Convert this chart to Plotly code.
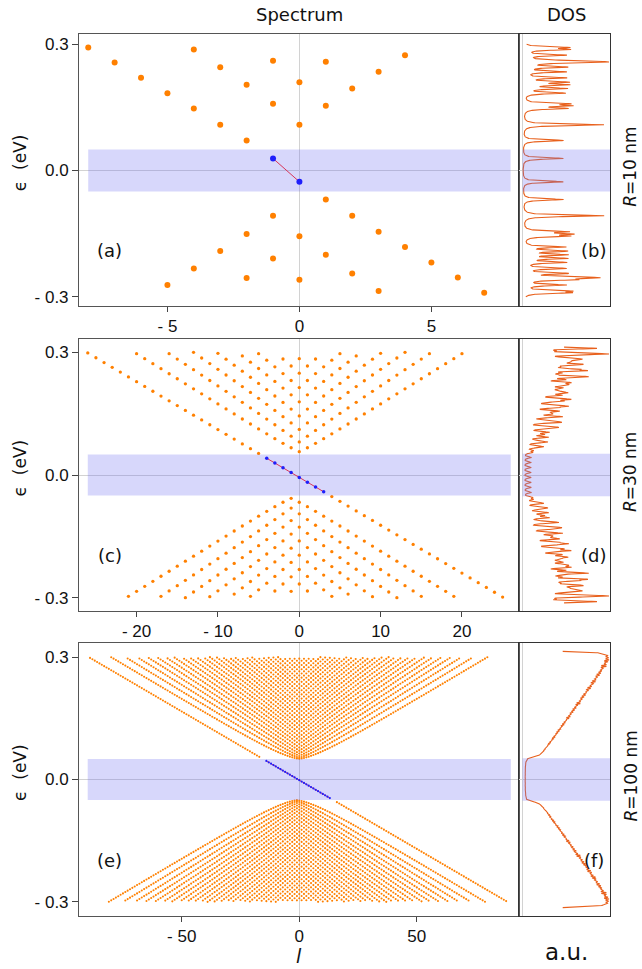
import numpy as np
import plotly.graph_objects as go

# ---------------- data ----------------
# panel (a), R = 10 nm : every point read individually
a_l_orange = [-8, -7, -6, -5, -4, -3, -2, 1, 2, 3, 4, 5, 6, 7,
              -4, -3, -2, -1, 0, 1, 2, 3, 4, -1, 0, 1,
              -5, -4, -3, -2, -1, 0, 1, 2, 3, -2, -1, 0]
a_e_orange = [0.292, 0.2565, 0.220, 0.1836, 0.1472, 0.1084, 0.0712,
              -0.069, -0.1077, -0.1457, -0.182, -0.2185, -0.254, -0.2905,
              0.2873, 0.2454, 0.2034, 0.1583, 0.1084, 0.1536, 0.1947, 0.2343, 0.2739,
              0.2604, 0.2098, 0.258,
              -0.2723, -0.2327, -0.1916, -0.1512, -0.1077, -0.156, -0.2003, -0.2446, -0.2866,
              -0.2557, -0.209, -0.2596]
a_l_blue = [-1, 0]
a_e_blue = [0.0285, -0.0269]

# panels (c) R = 30 nm and (e) R = 100 nm: dense level fans; parameters
radius_labels = ["<i>R</i>=10 nm", "<i>R</i>=30 nm", "<i>R</i>=100 nm"]
gap_half = 0.05            # half width of the shaded gap (eV)
e_cut = 0.30               # energy window of the spectrum (eV)
bulk_scale = [0.0115, 0.00335]     # level scale hbar*v/R (eV) for (c), (e)
edge_slope = [0.0117, 0.00337]     # chiral edge-branch slope (eV per l) for (c), (e)
edge_blue_below = [0.05, 0.047]    # |eps| under which the edge branch is blue
edge_orange_above = [0.05, 0.054]  # |eps| above which the edge branch is orange
band_halfwidth_l = [8, 26, 90]     # l extent of the shaded gap band
x_tick_vals = [[-5, 0, 5], [-20, -10, 0, 10, 20], [-50, 0, 50]]
x_tick_text = [["- 5", "0", "5"], ["- 20", "- 10", "0", "10", "20"], ["- 50", "0", "50"]]
y_tick_vals = [-0.3, 0.0, 0.3]
y_tick_text = ["- 0.3", "0.0", "0.3"]
panel_letters = [("(a)", "(b)"), ("(c)", "(d)"), ("(e)", "(f)")]
dos_gamma = 0.002

# ---------------- helpers ----------------
def bessel_zeros(order, x_max, M=400, step=0.04):
    x0 = float(order)
    if x0 >= x_max:
        return np.array([])
    x = np.arange(max(x0, 1e-6), x_max + step, step)
    tau = 2 * np.pi * np.arange(M) / M
    J = np.cos(order * tau[None, :] - x[:, None] * np.sin(tau)[None, :]).mean(axis=1)
    idx = np.where(np.sign(J[:-1]) * np.sign(J[1:]) < 0)[0]
    z = x[idx] - J[idx] * (x[idx + 1] - x[idx]) / (J[idx + 1] - J[idx])
    return z[z <= x_max]


def disk_levels(c, s, blue_lim, orange_lim):
    jmax = np.sqrt(e_cut ** 2 - gap_half ** 2) / c
    nmax = int(jmax) + 2
    zeros = {m: bessel_zeros(m, jmax) for m in range(nmax + 1)}
    ol, oe = [], []
    for l in range(-nmax - 1, nmax + 1):
        for j in zeros.get(abs(l), []):
            e = np.sqrt(gap_half ** 2 + (c * j) ** 2)
            if e <= e_cut:
                ol.append(l); oe.append(e)
        for j in zeros.get(abs(l + 1), []):
            e = -np.sqrt(gap_half ** 2 + (c * j) ** 2)
            if e >= -e_cut:
                ol.append(l); oe.append(e)
    bl, be = [], []
    nedge = int(e_cut / s) + 2
    for l in range(-nedge, nedge + 1):
        e = -s * (l + 0.5)
        if abs(e) > e_cut:
            continue
        if abs(e) < blue_lim:
            bl.append(l); be.append(e)
        elif abs(e) >= orange_lim:
            ol.append(l); oe.append(e)
    return ol, oe, bl, be


def dos_curve(levels, gamma):
    eps = np.linspace(-e_cut, e_cut, 2401)
    E = np.asarray(levels)
    out = np.zeros_like(eps)
    for k in range(0, len(eps), 300):
        d = eps[k:k + 300, None] - E[None, :]
        out[k:k + 300] = (gamma / np.pi / (d ** 2 + gamma ** 2)).sum(axis=1)
    return eps, out

# ---------------- assemble the three panels ----------------
panels = [(a_l_orange, a_e_orange, a_l_blue, a_e_blue)]
for i in range(2):
    panels.append(disk_levels(bulk_scale[i], edge_slope[i], edge_blue_below[i], edge_orange_above[i]))

W, H = 642, 969
spec_x = [79 / W, 519.3 / W]
dos_x = [519.3 / W, 610.3 / W]
rows_px = [(33.5, 306.0), (339.0, 611.0), (643.3, 915.7)]
spec_xrange = [[-8.35, 8.33], [-27.08, 27.05], [-93.7, 93.6]]
spec_yrange = [[-0.322, 0.3254], [-0.3325, 0.3325], [-0.334, 0.334]]
dos_yrange = [[-0.322, 0.3254], [-0.319, 0.319], [-0.319, 0.319]]
orange_size = [6.0, 3.3, 2.1]
blue_size = [6.0, 3.5, 2.2]

ORANGE = "#ff8000"
BLUE = "#0000ff"
DOSCOL = "#e8601c"
BAND = "rgba(110,110,240,0.28)"
TICKFONT = dict(family="Liberation Sans", size=17, color="#111")
LABFONT = "DejaVu Sans"

fig = go.Figure()
layout = dict(width=W, height=H, autosize=False, margin=dict(l=0, r=0, t=0, b=0),
              paper_bgcolor="white", plot_bgcolor="white", showlegend=False)
shapes, annotations = [], []

for r in range(3):
    ol, oe, bl, be = panels[r]
    sx = "x" if r == 0 else f"x{2 * r + 1}"
    sy = "y" if r == 0 else f"y{2 * r + 1}"
    dx, dy = f"x{2 * r + 2}", f"y{2 * r + 2}"
    top, bot = rows_px[r]
    ydom = [1 - bot / H, 1 - top / H]

    fig.add_trace(go.Scatter(x=ol, y=oe, mode="markers", xaxis=sx, yaxis=sy,
                             marker=dict(color=ORANGE, size=orange_size[r], line=dict(width=0))))
    fig.add_trace(go.Scatter(x=bl, y=be, mode="lines+markers", xaxis=sx, yaxis=sy,
                             line=dict(color="#ff2020", width=1),
                             marker=dict(color=BLUE, size=blue_size[r], line=dict(width=0))))

    eps, dos = dos_curve(list(oe) + list(be), dos_gamma)
    fig.add_trace(go.Scatter(x=dos, y=eps, mode="lines", xaxis=dx, yaxis=dy,
                             line=dict(color=DOSCOL, width=1.1)))
    M = float(dos.max())

    sxk = "xaxis" if r == 0 else f"xaxis{2 * r + 1}"
    syk = "yaxis" if r == 0 else f"yaxis{2 * r + 1}"
    layout[sxk] = dict(domain=spec_x, anchor=sy, range=spec_xrange[r],
                       tickmode="array", tickvals=x_tick_vals[r], ticktext=x_tick_text[r],
                       ticks="outside", ticklen=5, tickcolor="#444", tickfont=TICKFONT,
                       showgrid=False, zeroline=True, zerolinecolor="#d2d2d2", zerolinewidth=1,
                       showline=True, mirror=True, linecolor="#555", linewidth=1)
    layout[syk] = dict(domain=ydom, anchor=sx, range=spec_yrange[r],
                       tickmode="array", tickvals=y_tick_vals, ticktext=y_tick_text,
                       ticks="outside", ticklen=6, tickcolor="#444", tickfont=TICKFONT,
                       showgrid=False, zeroline=True, zerolinecolor="#d2d2d2", zerolinewidth=1,
                       showline=True, mirror=True, linecolor="#555", linewidth=1)
    layout[f"xaxis{2 * r + 2}"] = dict(domain=dos_x, anchor=dy, range=[-0.037 * M, 1.015 * M],
                                       showticklabels=False, ticks="", showgrid=False,
                                       zeroline=True, zerolinecolor="#d2d2d2", zerolinewidth=1,
                                       showline=True, mirror=True, linecolor="#333", linewidth=1)
    layout[f"yaxis{2 * r + 2}"] = dict(domain=ydom, anchor=dx, range=dos_yrange[r],
                                       showticklabels=False, ticks="", showgrid=False,
                                       zeroline=True, zerolinecolor="#d2d2d2", zerolinewidth=1,
                                       showline=True, mirror=True, linecolor="#333", linewidth=1)

    L = band_halfwidth_l[r]
    shapes.append(dict(type="rect", xref=sx, yref=sy, x0=-L, x1=L, y0=-gap_half, y1=gap_half,
                       fillcolor=BAND, line=dict(width=0), layer="above"))
    shapes.append(dict(type="rect", xref=dx, yref=dy, x0=0, x1=1.015 * M, y0=-gap_half, y1=gap_half,
                       fillcolor=BAND, line=dict(width=0), layer="above"))

    annotations.append(dict(text="\u03f5  (eV)", x=19.5 / W, y=1 - ((top + bot) / 2 - 7) / H,
                            xref="paper", yref="paper", showarrow=False, textangle=-90,
                            font=dict(family=LABFONT, size=17, color="#111"),
                            xanchor="center", yanchor="middle"))
    annotations.append(dict(text=radius_labels[r], x=630 / W, y=1 - ((top + bot) / 2 - 3) / H,
                            xref="paper", yref="paper", showarrow=False, textangle=-90,
                            font=dict(family=LABFONT, size=17, color="#111"),
                            xanchor="center", yanchor="middle"))
    ly = top + 0.797 * (bot - top)
    annotations.append(dict(text=panel_letters[r][0], x=109.5 / W, y=1 - ly / H,
                            xref="paper", yref="paper", showarrow=False,
                            font=dict(family=LABFONT, size=18, color="#111"),
                            xanchor="center", yanchor="middle"))
    annotations.append(dict(text=panel_letters[r][1], x=593.5 / W, y=1 - ly / H,
                            xref="paper", yref="paper", showarrow=False,
                            font=dict(family=LABFONT, size=18, color="#111"),
                            xanchor="center", yanchor="middle"))

annotations.append(dict(text="Spectrum", x=299.5 / W, y=1 - 14.5 / H, xref="paper", yref="paper",
                        showarrow=False, font=dict(family=LABFONT, size=18, color="#111"),
                        xanchor="center", yanchor="middle"))
annotations.append(dict(text="DOS", x=566 / W, y=1 - 15 / H, xref="paper", yref="paper",
                        showarrow=False, font=dict(family=LABFONT, size=18, color="#111"),
                        xanchor="center", yanchor="middle"))
annotations.append(dict(text="<i>l</i>", x=298.5 / W, y=1 - 956 / H, xref="paper", yref="paper",
                        showarrow=False, font=dict(family=LABFONT, size=19, color="#111"),
                        xanchor="center", yanchor="middle"))
annotations.append(dict(text="a.u.", x=566 / W, y=1 - 952 / H, xref="paper", yref="paper",
                        showarrow=False, font=dict(family=LABFONT, size=23, color="#111"),
                        xanchor="center", yanchor="middle"))

layout["shapes"] = shapes
layout["annotations"] = annotations
fig.update_layout(**layout)
fig.write_html("out.html", config={"displayModeBar": False},
               post_script="document.body.style.margin='0px';document.body.style.padding='0px';"
                           "document.body.style.overflow='hidden';")
